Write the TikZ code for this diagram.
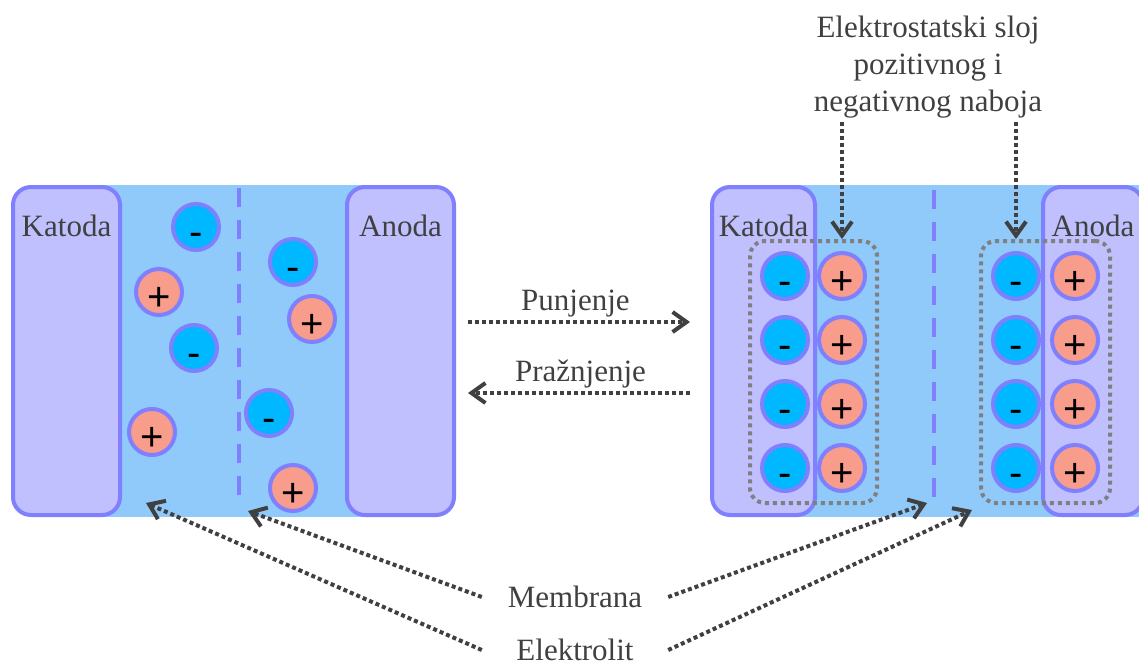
\documentclass[tikz,border=0pt]{standalone}
\usepackage{fontspec}
\setmainfont{Liberation Serif}
\newfontfamily\signfont{Liberation Sans}
\usepackage{xcolor}
\usepackage{tikz}
\usetikzlibrary{shapes,arrows.meta,positioning,fit}

\definecolor{elyte}{RGB}{144,202,250}
\definecolor{plate}{RGB}{192,192,255}
\definecolor{rim}{RGB}{128,128,255}
\definecolor{anion}{RGB}{0,184,255}
\definecolor{cation}{RGB}{248,156,140}
\definecolor{ink}{RGB}{64,64,64}

\begin{document}
\begin{tikzpicture}[
    x=1pt, y=-1pt,
    >={Straight Barb[length=14pt,width=20pt]},
    bath/.style={fill=elyte, inner sep=0pt, minimum height=332pt},
    electrode/.style={draw=rim, fill=plate, line width=4pt, rounded corners=18pt, minimum height=328pt, inner sep=0pt},
    ion/.style={circle, draw=rim, line width=4pt, minimum size=46pt, inner sep=0pt, text height=36pt, text depth=0pt, font=\signfont\fontsize{40}{40}\selectfont},
    negion/.style={ion, fill=anion},
    posion/.style={ion, fill=cation},
    word/.style={text=ink, font=\fontsize{31}{37}\selectfont},
    callout/.style={word, minimum width=186pt, inner ysep=2pt},
    pointer/.style={->, draw=ink, line width=4pt, dash pattern=on 4pt off 3pt},
    membrane/.style={draw=rim, line width=3.5pt, dash pattern=on 19pt off 13pt},
    layer/.style={draw=gray, line width=4pt, dash pattern=on 4pt off 4pt, rounded corners=15pt, inner sep=10pt}
]
    \useasboundingbox (0,0) rectangle (1139,666);

    % left cell
    \node[bath, minimum width=334pt] (cellL) at (233,351) {};
    \node[electrode, minimum width=107pt] (cathodeL) at (66.5,351) {};
    \node[electrode, minimum width=107pt] (anodeL) at (400.5,351) {};
    \node[word, below=26pt of cathodeL.north] (katodaL) {Katoda};
    \node[word, below=26pt of anodeL.north] (anodaL) {Anoda};
    \draw[membrane] (239,188) -- (239,502);
    \foreach \x/\y/\s/\t [count=\i] in {196/227/negion/-, 159/292/posion/+, 194/348/negion/-, 152/432/posion/+,
                                        293/262/negion/-, 312/319/posion/+, 269/413/negion/-, 293/488/posion/+}
        \node[\s] (ion\i) at (\x,\y) {\t};

    % right cell
    \node[bath, minimum width=380pt] (cellR) at (953,351) {};
    \node[electrode, minimum width=103pt] (cathodeR) at (763.5,351) {};
    \node[electrode, minimum width=100pt] (anodeR) at (1093,351) {};
    \node[word, below=26pt of cathodeR.north] (katodaR) {Katoda};
    \node[word, below=26pt of anodeR.north] (anodaR) {Anoda};
    \draw[membrane] (934,190) -- (934,502);
    \foreach \y [count=\i] in {276,340,404,468} {
        \node[negion] (a\i) at (785,\y) {-};
        \node[posion] (b\i) at (842,\y) {+};
        \node[negion] (c\i) at (1016,\y) {-};
        \node[posion] (d\i) at (1075,\y) {+};
    }
    \node[layer, fit=(a1)(b4)] (layerL) {};
    \node[layer, fit=(c1)(d4)] (layerR) {};

    \node[word, align=center] (charge) at (928,67) {Elektrostatski sloj\\pozitivnog i\\negativnog naboja};
    \draw[pointer] (charge.south -| b1) -- (layerL.north -| b1);
    \draw[pointer] (charge.south -| c1) -- (layerR.north -| c1);

    % charging / discharging
    \draw[pointer, shorten <=12pt, shorten >=20pt] ([yshift=29pt]anodeL.east) -- node[word, above, pos=0.47] (punjenje) {Punjenje} ([yshift=29pt]cathodeR.west);
    \draw[pointer, shorten <=20pt, shorten >=12pt] ([yshift=-42pt]cathodeR.west) -- node[word, above, pos=0.51] (praznjenje) {Pražnjenje} ([yshift=-42pt]anodeL.east);

    % bottom labels
    \node[callout] (membrana) at (575,597) {Membrana};
    \node[callout] (elektrolit) at (575,650) {Elektrolit};
    \coordinate (memL) at (248,511);
    \coordinate (elyL) at (146,503);
    \coordinate (memR) at (927,503);
    \coordinate (elyR) at (972,510);
    \draw[pointer] (membrana.west) -- (memL);
    \draw[pointer] (elektrolit.west) -- (elyL);
    \draw[pointer] (membrana.east) -- (memR);
    \draw[pointer] (elektrolit.east) -- (elyR);
\end{tikzpicture}
\end{document}
